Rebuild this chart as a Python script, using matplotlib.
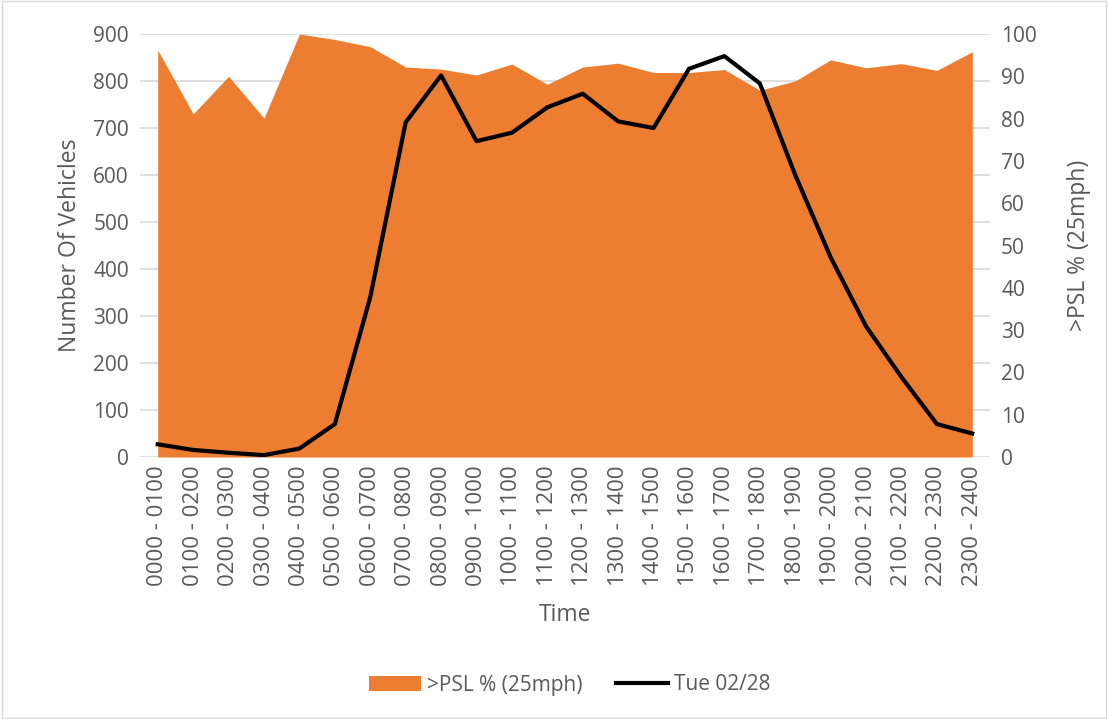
import numpy as np
import matplotlib.pyplot as plt
from matplotlib.patches import Rectangle
from matplotlib.lines import Line2D
from matplotlib.patches import Patch

plt.rcParams['font.family'] = ['Open Sans', 'DejaVu Sans']

# hourly periods
periods = ['0000 - 0100', '0100 - 0200', '0200 - 0300', '0300 - 0400', '0400 - 0500',
           '0500 - 0600', '0600 - 0700', '0700 - 0800', '0800 - 0900', '0900 - 1000',
           '1000 - 1100', '1100 - 1200', '1200 - 1300', '1300 - 1400', '1400 - 1500',
           '1500 - 1600', '1600 - 1700', '1700 - 1800', '1800 - 1900', '1900 - 2000',
           '2000 - 2100', '2100 - 2200', '2200 - 2300', '2300 - 2400']

# % above posted speed limit (right axis)
psl_pct = [96.2, 81.1, 90.0, 80.1, 100.0, 98.7, 97.0, 92.2, 91.7, 90.3, 92.9, 88.1,
           92.2, 93.1, 90.9, 90.9, 91.6, 86.7, 88.9, 93.9, 92.0, 93.0, 91.4, 95.8]

# vehicle counts (left axis)
vehicles = [27, 15, 9, 4, 18, 70, 340, 712, 812, 672, 690, 744,
            773, 714, 700, 826, 853, 795, 600, 425, 278, 170, 70, 50]

grey = '#595959'
orange = '#ED7D31'

fig = plt.figure(figsize=(11.08, 7.19), dpi=100)
ax = fig.add_axes([0.1264, 0.3644, 0.7671, 0.5883])
ax2 = ax.twinx()

x = np.arange(len(periods))

# area on the secondary axis, drawn behind the line
ax2.fill_between(x, psl_pct, 0, color=orange, linewidth=0, zorder=2)
ax2.set_ylim(0, 100)
ax2.set_yticks(range(0, 101, 10))

ax.set_zorder(ax2.get_zorder() + 1)
ax.patch.set_visible(False)
ax.plot(x, vehicles, color='black', linewidth=3, zorder=3)
ax.set_ylim(0, 900)
ax.set_yticks(range(0, 901, 100))
ax.set_xlim(-0.5, 23.5)
ax.set_xticks(x)
ax.set_xticklabels(periods, rotation=90)

# primary-axis gridlines, drawn on the back axes so the area covers them
for v in range(0, 901, 100):
    ax2.axhline(v / 9, color='#D9D9D9', linewidth=1.2, zorder=1)

for a in (ax, ax2):
    for s in a.spines.values():
        s.set_visible(False)
    a.tick_params(length=0, labelsize=15, colors=grey, pad=8)
ax.tick_params(axis='x', labelsize=16, pad=6)

ax.set_ylabel('Number Of Vehicles', fontsize=16.5, color=grey, labelpad=8)
ax2.set_ylabel('>PSL % (25mph)', fontsize=16.5, color=grey, labelpad=22)
ax.set_xlabel('Time', fontsize=16.5, color=grey, labelpad=12)

handles = [Patch(facecolor=orange, edgecolor='none'),
           Line2D([0], [0], color='black', linewidth=3)]
fig.legend(handles, ['>PSL % (25mph)', 'Tue 02/28'], loc='center',
           bbox_to_anchor=(0.514, 1 - 685 / 719), ncol=2, frameon=False,
           fontsize=15, labelcolor=grey, handlelength=2.5, handletextpad=0.3,
           columnspacing=1.6)

fig.patches.append(Rectangle((0.002, 0.002), 0.996, 0.996, transform=fig.transFigure,
                             fill=False, edgecolor='#D9D9D9', linewidth=1))

fig.savefig('out.png', dpi=100)
